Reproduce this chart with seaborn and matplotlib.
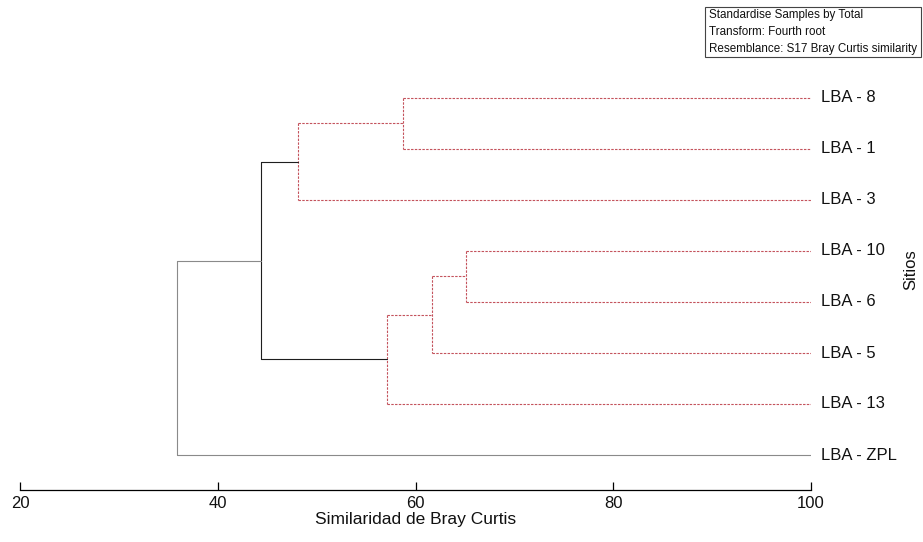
import numpy as np
import pandas as pd
import matplotlib
matplotlib.use("Agg")
import matplotlib.pyplot as plt
from matplotlib.patches import Rectangle
import seaborn as sns

# ---------------- data ----------------
sites = ["LBA - 8", "LBA - 1", "LBA - 3", "LBA - 10", "LBA - 6", "LBA - 5", "LBA - 13", "LBA - ZPL"]
merge_left = ["LBA - 8", "m0", "LBA - 10", "m2", "m3", "m1", "m5"]
merge_right = ["LBA - 1", "LBA - 3", "LBA - 6", "LBA - 5", "LBA - 13", "m4", "LBA - ZPL"]
merge_sim = [58.7, 48.1, 65.1, 61.7, 57.1, 44.4, 35.9]
merge_kind = ["sub", "sub", "sub", "sub", "sub", "main", "root"]
x_ticks = [20, 40, 60, 80, 100]
legend_lines = ["Standardise Samples by Total", "Transform: Fourth root",
                "Resemblance: S17 Bray Curtis similarity"]

# ---------------- build dendrogram segments ----------------
pos = {s: (100.0, i + 1) for i, s in enumerate(sites)}
rows = []
seg = 0
for i, (l, r, s, k) in enumerate(zip(merge_left, merge_right, merge_sim, merge_kind)):
    xl, yl = pos[l]
    xr, yr = pos[r]
    for (xc, yc) in [(xl, yl), (xr, yr)]:
        rows.append(dict(seg=seg, x=s, y=yc, kind=k))
        rows.append(dict(seg=seg, x=xc, y=yc, kind=k))
        seg += 1
    rows.append(dict(seg=seg, x=s, y=yl, kind=k))
    rows.append(dict(seg=seg, x=s, y=yr, kind=k))
    seg += 1
    pos[f"m{i}"] = (s, (yl + yr) / 2)
df = pd.DataFrame(rows)

# ---------------- plot ----------------
sns.set_theme(style="white")
plt.rcParams["font.family"] = ["Liberation Sans", "DejaVu Sans"]
plt.rcParams["text.color"] = "#111111"
plt.rcParams["axes.labelcolor"] = "#111111"
plt.rcParams["xtick.color"] = "#111111"

W, H = 923, 542
fig = plt.figure(figsize=(W / 100, H / 100), dpi=100)
ax = fig.add_axes([20 / W, 1 - 490 / H, (811 - 20) / W, (490 - 60) / H])

palette = {"sub": "#c4535c", "main": "#1e1e1e", "root": "#8a8a8a"}
dashes = {"sub": (2.2, 1.2), "main": "", "root": ""}
sns.lineplot(data=df, x="x", y="y", units="seg", estimator=None, sort=False,
             hue="kind", style="kind", palette=palette, dashes=dashes,
             linewidth=0.8, legend=False, ax=ax)

ax.set_xlim(20, 100)
ax.set_ylim(8 + 35 / 51, 8 - (455 - 60) / 51)
ax.set_yticks([])
ax.set_ylabel("")
for sp in ["top", "left", "right"]:
    ax.spines[sp].set_visible(False)
ax.spines["bottom"].set_color("black")
ax.spines["bottom"].set_linewidth(0.9)
ax.set_xticks(x_ticks)
ax.set_xticklabels([str(t) for t in x_ticks])
ax.tick_params(axis="x", direction="in", length=5.5, width=0.9, color="black",
               labelsize=12, pad=4, bottom=True)
ax.set_xlabel("Similaridad de Bray Curtis", fontsize=12.5, labelpad=1)

for i, s in enumerate(sites):
    ax.annotate(s, xy=(100, i + 1), xytext=(7.5, 0), textcoords="offset points",
                ha="left", va="center", fontsize=12, annotation_clip=False)

fig.text(911 / W, 1 - 270 / H, "Sitios", rotation=90, ha="center", va="center", fontsize=12)

# legend box
fig.patches.append(Rectangle((705 / W, 1 - 57 / H), (921 - 705) / W, 50 / H,
                             transform=fig.transFigure, fill=False,
                             edgecolor="#444444", linewidth=0.8))
for j, t in enumerate(legend_lines):
    fig.text(709 / W, 1 - (15 + 17 * j) / H, t, ha="left", va="center", fontsize=8.4)

fig.savefig("out.png", dpi=100)
